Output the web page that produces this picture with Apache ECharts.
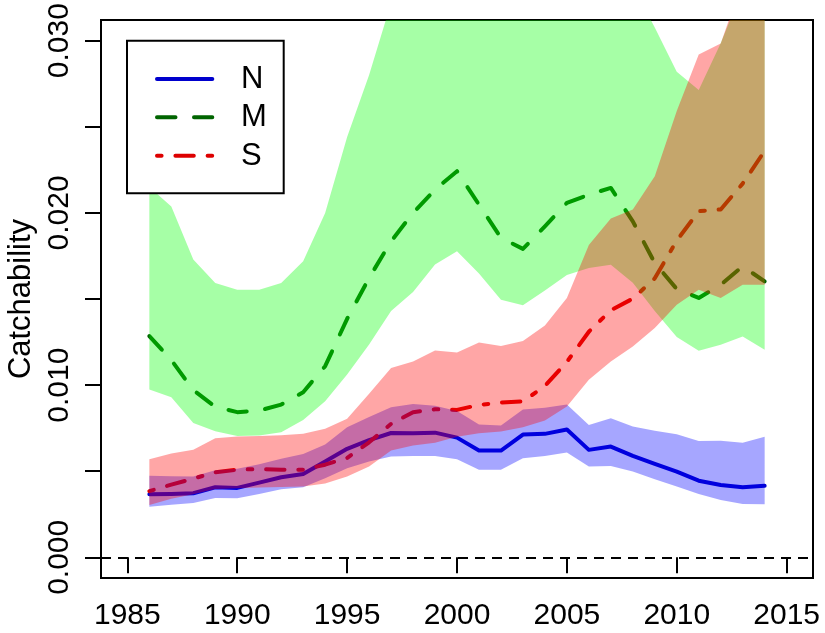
<!DOCTYPE html>
<html>
<head>
<meta charset="utf-8">
<script src="https://cdn.jsdelivr.net/npm/echarts@6/dist/echarts.min.js"></script>
<style>
html,body{margin:0;padding:0;background:#fff;}
#chart{width:825px;height:633px;}
</style>
</head>
<body>
<div id="chart"></div>
<script>
// ---------------- data ----------------
const years = [1986,1987,1988,1989,1990,1991,1992,1993,1994,1995,1996,1997,1998,1999,2000,
               2001,2002,2003,2004,2005,2006,2007,2008,2009,2010,2011,2012,2013,2014];
const seriesNames = ['N', 'M', 'S'];

const nMid  = [0.00366,0.00368,0.00372,0.00407,0.00403,0.00434,0.00465,0.00484,0.00556,0.00630,0.00680,0.00722,0.00721,0.00724,0.00695,
               0.00620,0.00620,0.00713,0.00717,0.00742,0.00624,0.00643,0.00589,0.00542,0.00498,0.00445,0.00420,0.00407,0.00415];
const nLow  = [0.00294,0.00305,0.00316,0.00345,0.00343,0.00368,0.00395,0.00407,0.00459,0.00517,0.00556,0.00585,0.00589,0.00589,0.00570,
               0.00508,0.00508,0.00575,0.00589,0.00608,0.00527,0.00531,0.00498,0.00453,0.00411,0.00368,0.00333,0.00310,0.00308];
const nHigh = [0.00473,0.00471,0.00469,0.00505,0.00515,0.00540,0.00572,0.00600,0.00655,0.00755,0.00815,0.00872,0.00890,0.00880,0.00850,
               0.00771,0.00765,0.00858,0.00868,0.00887,0.00769,0.00808,0.00760,0.00735,0.00715,0.00675,0.00677,0.00666,0.00700];

const mMid  = [0.01285,0.01145,0.00971,0.00874,0.00843,0.00852,0.00887,0.00959,0.01110,0.01385,0.01622,0.01835,0.02000,0.02135,0.02242,
               0.02048,0.01855,0.01791,0.01922,0.02058,0.02106,0.02145,0.01951,0.01709,0.01558,0.01506,0.01583,0.01690,0.01602];
const mLow  = [0.00975,0.00930,0.00780,0.00732,0.00704,0.00707,0.00727,0.00797,0.00907,0.01062,0.01236,0.01430,0.01540,0.01700,0.01777,
               0.01648,0.01496,0.01464,0.01550,0.01640,0.01680,0.01699,0.01595,0.01430,0.01280,0.01200,0.01235,0.01282,0.01206];
const mHigh = [0.02150,0.02037,0.01729,0.01593,0.01554,0.01554,0.01593,0.01719,0.02000,0.02440,0.02800,0.03220,0.03600,0.03800,0.03900,
               0.03800,0.03700,0.03600,0.03700,0.03800,0.03700,0.03500,0.03320,0.03076,0.02820,0.02713,0.02985,0.03300,0.03400];

const sMid  = [0.00384,0.00422,0.00457,0.00494,0.00509,0.00513,0.00509,0.00509,0.00538,0.00577,0.00668,0.00775,0.00843,0.00860,0.00856,
               0.00885,0.00899,0.00905,0.00995,0.01135,0.01310,0.01435,0.01502,0.01620,0.01839,0.02010,0.02020,0.02170,0.02360];
const sLow  = [0.00304,0.00340,0.00366,0.00397,0.00401,0.00405,0.00409,0.00411,0.00428,0.00469,0.00527,0.00620,0.00650,0.00665,0.00700,
               0.00721,0.00730,0.00756,0.00794,0.00876,0.01031,0.01137,0.01224,0.01331,0.01467,0.01554,0.01506,0.01583,0.01583];
const sHigh = [0.00570,0.00603,0.00624,0.00692,0.00701,0.00705,0.00709,0.00717,0.00747,0.00805,0.00950,0.01099,0.01137,0.01201,0.01190,
               0.01248,0.01227,0.01256,0.01346,0.01506,0.01814,0.01967,0.02020,0.02213,0.02591,0.02920,0.02983,0.03350,0.03600];

const xTickValues = [1985, 1990, 1995, 2000, 2005, 2010, 2015];
const yTickValues = [0, 0.005, 0.01, 0.015, 0.02, 0.025, 0.03];
const yLabelValues = [0, 0.01, 0.02, 0.03];
const yTitle = 'Catchability';

// ---------------- styling ----------------
const FONT = '"Liberation Sans", Arial, Helvetica, sans-serif';
const lineColors = ['#0000CD', '#006400', '#DD0000'];
const bandColors = ['rgba(0,0,255,0.35)', 'rgba(0,255,0,0.35)', 'rgba(255,0,0,0.35)'];
const dashes = [null, [18.5, 18.5], [4.6, 13.8, 18.4, 13.8]];
const mids = [nMid, mMid, sMid];
const lows = [nLow, mLow, sLow];
const highs = [nHigh, mHigh, sHigh];

function lineSeries(i) {
  const s = {
    type: 'line', name: seriesNames[i], z: 2, silent: true, animation: false, clip: true,
    symbol: 'none', showSymbol: false,
    data: years.map((y, k) => [y, mids[i][k]]),
    lineStyle: { color: lineColors[i], width: 4, type: dashes[i] || 'solid', cap: 'round', join: 'round' },
    emphasis: { disabled: true }
  };
  if (i === 0) {
    s.markLine = {
      silent: true, animation: false, symbol: ['none', 'none'],
      label: { show: false },
      lineStyle: { color: '#000', width: 2, type: [10, 7] },
      data: [{ yAxis: 0 }]
    };
  }
  return s;
}

function bandSeries(i) {
  const lo = lows[i], hi = highs[i];
  return {
    type: 'custom', name: seriesNames[i] + ' interval', z: 3, silent: true, animation: false,
    data: years.map((y, k) => [y, lo[k], hi[k]]),
    encode: { x: 0, y: [1, 2] },
    renderItem: function (params, api) {
      if (params.dataIndex !== 0) return null;
      const pts = [];
      for (let k = 0; k < years.length; k++) pts.push(api.coord([years[k], hi[k]]));
      for (let k = years.length - 1; k >= 0; k--) pts.push(api.coord([years[k], lo[k]]));
      const cs = params.coordSys;
      return {
        type: 'polygon',
        shape: { points: pts },
        style: { fill: bandColors[i], stroke: null },
        clipPath: { type: 'rect', shape: { x: cs.x, y: cs.y, width: cs.width, height: cs.height } }
      };
    }
  };
}

const legendY = [79, 117.3, 155.7];
const graphicEls = [
  { type: 'rect', z: 100, shape: { x: 127, y: 40.7, width: 156.7, height: 152.6 },
    style: { fill: '#fff', stroke: '#000', lineWidth: 2 } }
];
seriesNames.forEach((nm, i) => {
  graphicEls.push({ type: 'line', z: 101,
    shape: { x1: 157, y1: legendY[i], x2: 212.3, y2: legendY[i] },
    style: { stroke: lineColors[i], lineWidth: 4, lineDash: dashes[i], lineCap: 'round' } });
  graphicEls.push({ type: 'text', z: 101, x: 241, y: legendY[i] + 0.5,
    style: { text: nm, font: '31px ' + FONT, fill: '#000', align: 'left', verticalAlign: 'middle' } });
});

const chart = echarts.init(document.getElementById('chart'), null, { renderer: 'canvas' });
chart.setOption({
  animation: false,
  backgroundColor: '#fff',
  grid: { left: 101, right: 12, top: 20, bottom: 55, show: true, borderColor: '#000', borderWidth: 2,
          backgroundColor: 'transparent', containLabel: false, outerBoundsMode: 'none' },
  xAxis: {
    type: 'value', min: 1983.8, max: 2016.2,
    axisLine: { show: false }, splitLine: { show: false },
    axisTick: { show: true, inside: false, length: 16, lineStyle: { color: '#000', width: 2 }, customValues: xTickValues },
    axisLabel: { show: true, customValues: xTickValues, formatter: v => String(Math.round(v)),
                 color: '#000', fontSize: 30, fontFamily: FONT, margin: 23 }
  },
  yAxis: {
    type: 'value', min: -0.0012, max: 0.0312,
    axisLine: { show: false }, splitLine: { show: false },
    axisTick: { show: true, inside: false, length: 16, lineStyle: { color: '#000', width: 2 }, customValues: yTickValues },
    axisLabel: { show: true, customValues: yLabelValues, formatter: v => Number(v).toFixed(3), rotate: 90,
                 color: '#000', fontSize: 30, fontFamily: FONT, margin: 26 },
    name: yTitle, nameLocation: 'middle', nameRotate: 90, nameGap: 62,
    nameTextStyle: { color: '#000', fontSize: 31, fontFamily: FONT }
  },
  series: [lineSeries(0), lineSeries(1), lineSeries(2), bandSeries(0), bandSeries(1), bandSeries(2)],
  graphic: { elements: graphicEls }
});
</script>
</body>
</html>
